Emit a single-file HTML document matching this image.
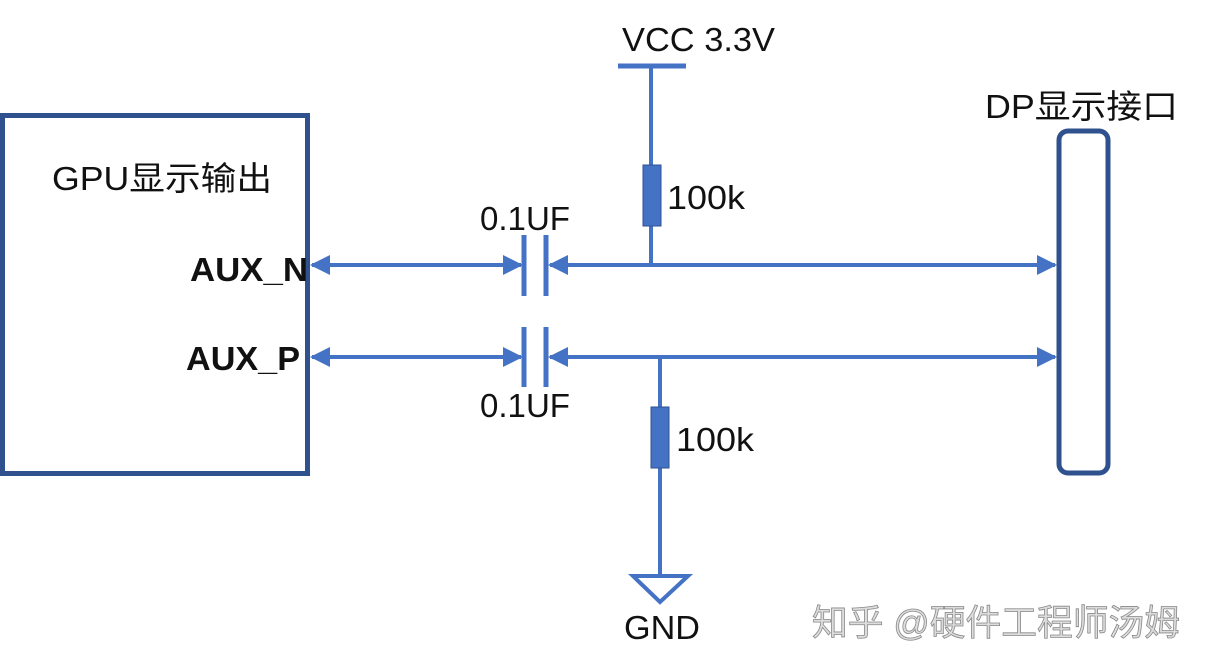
<!DOCTYPE html>
<html><head><meta charset="utf-8"><style>
html,body{margin:0;padding:0;background:#fff;}
svg{display:block;}
text{font-family:"Liberation Sans","Noto Sans CJK SC",sans-serif;fill:#111;}
</style></head><body>
<svg width="1207" height="671" viewBox="0 0 1207 671" xmlns="http://www.w3.org/2000/svg">
<defs>
<marker id="ah" markerWidth="5" markerHeight="5" refX="4.5" refY="2.5" orient="auto-start-reverse" markerUnits="strokeWidth">
<path d="M0,0 L5,2.5 L0,5 z" fill="#4472C4"/>
</marker>
</defs>
<rect x="2.5" y="115.5" width="305" height="358" fill="none" stroke="#2F528F" stroke-width="5"/>
<text x="52" y="190" font-size="33" textLength="220" lengthAdjust="spacingAndGlyphs">GPU显示输出</text>
<text x="190" y="281" font-size="33" font-weight="bold" textLength="118" lengthAdjust="spacingAndGlyphs">AUX_N</text>
<text x="186" y="370" font-size="33" font-weight="bold" textLength="114" lengthAdjust="spacingAndGlyphs">AUX_P</text>
<rect x="1059" y="131" width="49" height="342" rx="9" fill="none" stroke="#2F528F" stroke-width="5"/>
<text x="985" y="118" font-size="33" textLength="193" lengthAdjust="spacingAndGlyphs">DP显示接口</text>
<g stroke="#4472C4" stroke-width="4" fill="none">
<line x1="312" y1="265" x2="521" y2="265" marker-start="url(#ah)" marker-end="url(#ah)"/>
<line x1="312" y1="357" x2="521" y2="357" marker-start="url(#ah)" marker-end="url(#ah)"/>
<line x1="550" y1="265" x2="1055" y2="265" marker-start="url(#ah)" marker-end="url(#ah)"/>
<line x1="550" y1="357" x2="1055" y2="357" marker-start="url(#ah)" marker-end="url(#ah)"/>
<line x1="651" y1="65" x2="651" y2="265"/>
<line x1="660" y1="357" x2="660" y2="578"/>
</g>
<g stroke="#4472C4" stroke-width="5">
<line x1="524" y1="235" x2="524" y2="296"/>
<line x1="546" y1="235" x2="546" y2="296"/>
<line x1="524" y1="327" x2="524" y2="387"/>
<line x1="546" y1="327" x2="546" y2="387"/>
<line x1="618" y1="66" x2="686" y2="66"/>
</g>
<rect x="643" y="165" width="18" height="61" fill="#4472C4" stroke="#2F528F" stroke-width="1"/>
<rect x="651" y="407" width="18" height="61" fill="#4472C4" stroke="#2F528F" stroke-width="1"/>
<path d="M633,576 L688,576 L660,602 Z" fill="none" stroke="#4472C4" stroke-width="4"/>
<text x="622" y="51" font-size="33" textLength="153" lengthAdjust="spacingAndGlyphs">VCC 3.3V</text>
<text x="480" y="230" font-size="33" textLength="90" lengthAdjust="spacingAndGlyphs">0.1UF</text>
<text x="480" y="417" font-size="33" textLength="90" lengthAdjust="spacingAndGlyphs">0.1UF</text>
<text x="667" y="209" font-size="33" textLength="78" lengthAdjust="spacingAndGlyphs">100k</text>
<text x="676" y="451" font-size="33" textLength="78" lengthAdjust="spacingAndGlyphs">100k</text>
<text x="624" y="639" font-size="33" textLength="76" lengthAdjust="spacingAndGlyphs">GND</text>
<text x="812" y="635" font-size="36" textLength="368" lengthAdjust="spacingAndGlyphs" style="fill:#ddd;stroke:#888;stroke-width:0.8">知乎 @硬件工程师汤姆</text>
</svg>
</body></html>
